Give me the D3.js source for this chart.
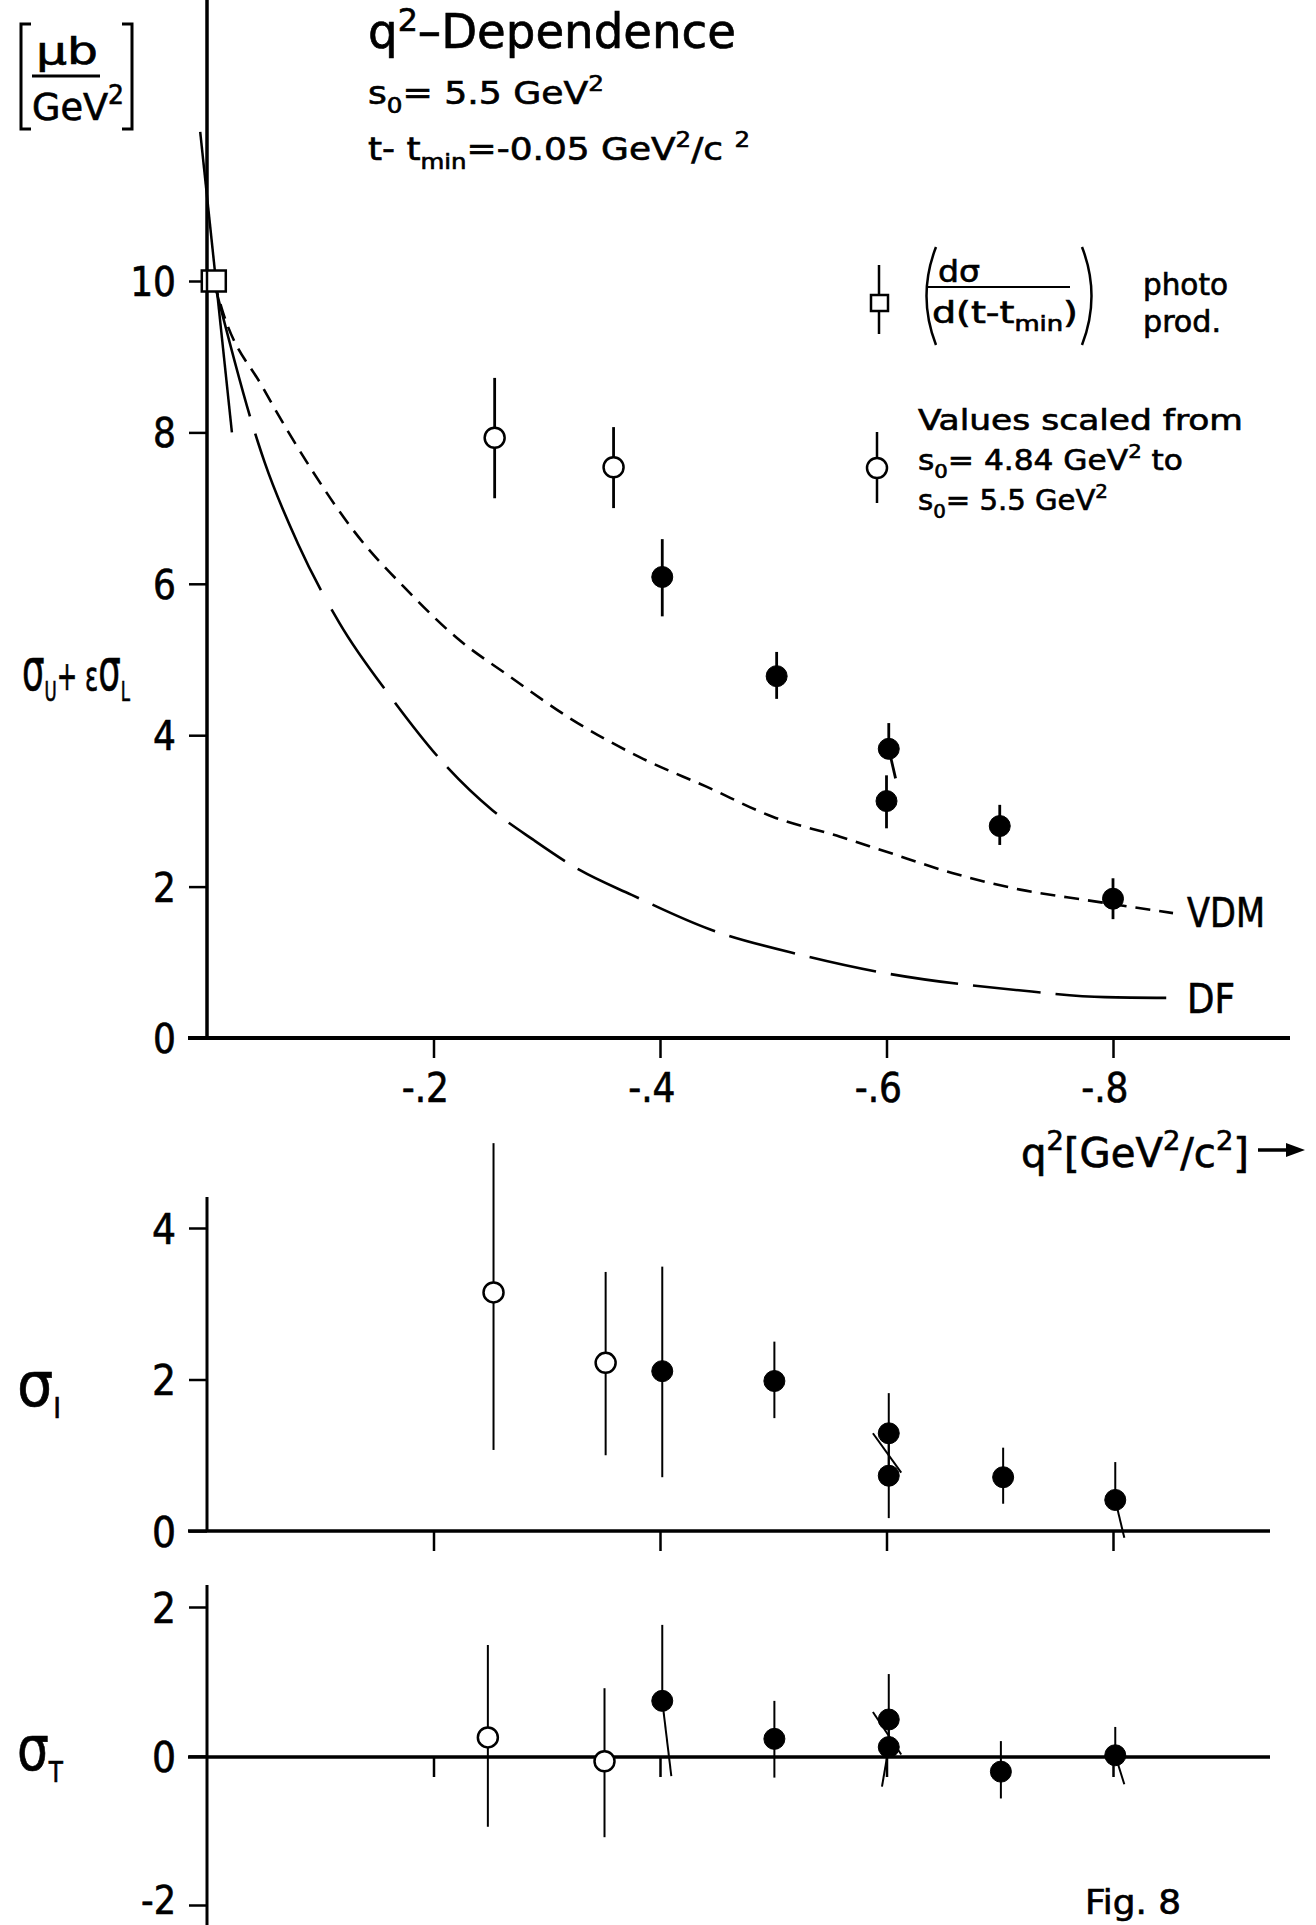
<!DOCTYPE html>
<html>
<head>
<meta charset="utf-8">
<script src="https://cdn.jsdelivr.net/npm/d3@7"></script>
<style>
  body { margin: 0; background: #fff; }
  svg { display: block; background: #fff; }
  text { font-family: "DejaVu Sans Condensed", "DejaVu Sans", sans-serif; font-stretch: condensed; fill: #000; stroke: #000; stroke-width: 0.6px; }
</style>
</head>
<body>
<svg id="fig" width="1316" height="1925"></svg>
<script>
// ---- axis ticks ----
const qTicks = [-0.2, -0.4, -0.6, -0.8];
const qTickLabels = ["-.2", "-.4", "-.6", "-.8"];
const mainTicks = [0, 2, 4, 6, 8, 10];
const giTicks = [0, 2, 4];
const gtTicks = [-2, 0, 2];

// ---- σU + εσL panel: [q², value, upper error end, lower error end, q² shift of lower end] ----
const photoPoint = [[-0.006, 10]];
const mainOpen = [
  [-0.254, 7.93, 8.72, 7.13],
  [-0.359, 7.54, 8.07, 7.00]
];
const mainFilled = [
  [-0.402, 6.09, 6.59, 5.57],
  [-0.503, 4.78, 5.10, 4.48],
  [-0.602, 3.82, 4.16, 3.43, -0.006],
  [-0.600, 3.13, 3.47, 2.77],
  [-0.700, 2.80, 3.08, 2.55],
  [-0.800, 1.84, 2.11, 1.57]
];
// slope line through the photoproduction point: [q²1, v1, q²2, v2]
const mainSlope = [[0.006, 11.97, -0.022, 8.0]];

// model curves
const vdmQ = [-0.006, -0.014, -0.049, -0.091, -0.129, -0.179, -0.221, -0.265, -0.323, -0.382, -0.441, -0.500, -0.559, -0.600, -0.658, -0.718, -0.777, -0.853];
const vdmV = [10, 9.59, 8.60, 7.54, 6.71, 5.88, 5.28, 4.80, 4.20, 3.71, 3.32, 2.92, 2.66, 2.46, 2.18, 1.96, 1.82, 1.65];
const dfQ = [-0.006, -0.045, -0.051, -0.080, -0.117, -0.164, -0.212, -0.252, -0.288, -0.329, -0.375, -0.445, -0.524, -0.594, -0.717, -0.793, -0.847];
const dfV = [10, 7.87, 7.60, 6.54, 5.48, 4.47, 3.58, 3.01, 2.62, 2.22, 1.89, 1.43, 1.10, 0.87, 0.63, 0.54, 0.53];

// ---- σI panel ----
const giOpen = [
  [-0.253, 3.15, 5.12, 1.07],
  [-0.352, 2.22, 3.42, 1.00]
];
const giFilled = [
  [-0.402, 2.11, 3.49, 0.71],
  [-0.501, 1.98, 2.50, 1.49],
  [-0.602, 1.29, 1.82, 0.73],
  [-0.602, 0.73, 1.29, 0.17],
  [-0.703, 0.71, 1.10, 0.36],
  [-0.802, 0.41, 0.91, -0.09, -0.008]
];
const giSlants = [[-0.588, 1.29, -0.613, 0.77]];

// ---- σT panel ----
const gtOpen = [
  [-0.248, 0.25, 1.49, -0.95],
  [-0.351, -0.07, 0.91, -1.09]
];
const gtFilled = [
  [-0.402, 0.74, 1.76, -0.27, -0.008],
  [-0.501, 0.23, 0.74, -0.29],
  [-0.602, 0.49, 1.10, 0.12],
  [-0.602, 0.12, 0.49, -0.41, 0.006],
  [-0.701, -0.21, 0.20, -0.57],
  [-0.802, 0.01, 0.39, -0.38, -0.008]
];
const gtSlants = [[-0.588, 0.59, -0.613, 0.02]];

// ---------------------------------------------------------------
const svg = d3.select("#fig");
svg.append("rect").attr("width", 1316).attr("height", 1925).attr("fill", "#fff");

const x = d3.scaleLinear().domain([0, -0.8]).range([207, 1113]);
const yMain = d3.scaleLinear().domain([0, 10]).range([1038, 281]);
const yGI = d3.scaleLinear().domain([0, 4]).range([1531, 1228]);
const yGT = d3.scaleLinear().domain([-2, 2]).range([1905, 1607]);

// text with sub/superscript parts; optional horizontal squeeze to a given width
function rich(g, px, py, size, parts, opts = {}) {
  const holder = g.append("g").attr("transform", `translate(${px},${py})`);
  const t = holder.append("text").attr("x", 0).attr("y", 0).attr("font-size", size);
  const lift = opts.lift || 0.42;
  let cur = 0;
  parts.forEach(p => {
    const [s, k, fs] = typeof p === "string" ? [p, null, null] : p;
    const target = k === "sup" ? -lift * size : k === "sub" ? 0.28 * size : 0;
    const ts = t.append("tspan").attr("dy", target - cur).text(s);
    if (k === "sup" || k === "sub") ts.attr("font-size", size * 0.68);
    if (fs) ts.attr("font-size", fs);
    cur = target;
  });
  if (opts.len) {
    const w = t.node().getComputedTextLength();
    holder.attr("transform", `translate(${px},${py}) scale(${opts.len / w},1)`);
  }
  return t;
}

function line(g, x1, y1, x2, y2, w) {
  return g.append("line").attr("x1", x1).attr("y1", y1).attr("x2", x2).attr("y2", y2)
    .attr("stroke", "#000").attr("stroke-width", w).attr("stroke-linecap", "butt");
}

// y axis ticks + labels on the left of a panel
function yAxis(y, ticks, size) {
  const g = svg.append("g").attr("transform", "translate(207,0)")
    .call(d3.axisLeft(y).tickValues(ticks).tickSize(18).tickPadding(13).tickFormat(d3.format("d")));
  g.select(".domain").remove();
  g.selectAll(".tick line").attr("stroke-width", 2.5);
  g.selectAll(".tick text")
    .attr("font-family", '"DejaVu Sans Condensed","DejaVu Sans",sans-serif')
    .attr("font-size", size).attr("dy", "0.36em")
    .text(d => d < 0 ? "-" + Math.abs(d) : d);
  return g;
}

// x ticks below a baseline
function xTicks(yPix, withLabels) {
  const g = svg.append("g").attr("transform", `translate(0,${yPix})`)
    .call(d3.axisBottom(x).tickValues(qTicks).tickSize(20).tickFormat((d, i) => withLabels ? qTickLabels[i] : ""));
  g.select(".domain").remove();
  g.selectAll(".tick line").attr("stroke-width", 2.5);
  g.selectAll(".tick text")
    .attr("font-family", '"DejaVu Sans Condensed","DejaVu Sans",sans-serif')
    .attr("font-size", 40).attr("text-anchor", "end")
    .attr("x", 15).attr("y", 64).attr("dy", 0);
  return g;
}

// error bars + markers
function points(y, data, filled, r, w) {
  const g = svg.append("g");
  g.selectAll("line.hi").data(data.filter(d => d[2] != null)).join("line")
    .attr("x1", d => x(d[0])).attr("x2", d => x(d[0]))
    .attr("y1", d => y(d[1])).attr("y2", d => y(d[2]))
    .attr("stroke", "#000").attr("stroke-width", w);
  g.selectAll("line.lo").data(data.filter(d => d[3] != null)).join("line")
    .attr("x1", d => x(d[0])).attr("x2", d => x(d[0] + (d[4] || 0)))
    .attr("y1", d => y(d[1])).attr("y2", d => y(d[3]))
    .attr("stroke", "#000").attr("stroke-width", w);
  g.selectAll("circle").data(data).join("circle")
    .attr("cx", d => x(d[0])).attr("cy", d => y(d[1])).attr("r", r)
    .attr("fill", filled ? "#000" : "#fff")
    .attr("stroke", "#000").attr("stroke-width", filled ? 1 : 2.5);
  return g;
}

function slants(y, data, w) {
  svg.append("g").selectAll("line").data(data).join("line")
    .attr("x1", d => x(d[0])).attr("y1", d => y(d[1]))
    .attr("x2", d => x(d[2])).attr("y2", d => y(d[3]))
    .attr("stroke", "#000").attr("stroke-width", w);
}

// ================= σU + εσL panel =================
line(svg, 207, 0, 207, 1038, 3.5);
line(svg, 188, 1038, 1290, 1038, 4);
yAxis(yMain, mainTicks, 40);
xTicks(1038, true);

slants(yMain, mainSlope, 2.5);

const curve = d3.line().x(d => x(d[0])).y(d => yMain(d[1])).curve(d3.curveMonotoneX);
svg.append("path").datum(vdmQ.map((q, i) => [q, vdmV[i]]))
  .attr("d", curve).attr("fill", "none").attr("stroke", "#000")
  .attr("stroke-width", 2.6).attr("stroke-dasharray", "15,9");

const dfPath = svg.append("path").datum(dfQ.map((q, i) => [q, dfV[i]]))
  .attr("d", curve).attr("fill", "none").attr("stroke", "#000").attr("stroke-width", 2.6);
// long dashes: longer strokes near the origin, regular ones after, closing on a dash
{
  const total = dfPath.node().getTotalLength();
  const dashes = [140, 18, 170, 22, 95, 18];
  let used = d3.sum(dashes);
  while (used + 83 + 40 < total) { dashes.push(68, 15); used += 83; }
  dashes.push(total - used + 2, 40);
  dfPath.attr("stroke-dasharray", dashes.join(","));
}

points(yMain, mainOpen, false, 10, 2.8);
points(yMain, mainFilled, true, 10.5, 2.8);

svg.append("g").selectAll("rect").data(photoPoint).join("rect")
  .attr("x", d => x(d[0]) - 12).attr("y", d => yMain(d[1]) - 10.5)
  .attr("width", 24).attr("height", 21)
  .attr("fill", "#fff").attr("stroke", "#000").attr("stroke-width", 2.5);
line(svg, 207, 271, 207, 292, 2.5);

rich(svg, 1187, 927, 41, ["VDM"], { len: 78 });
rich(svg, 1187, 1013, 41, ["DF"], { len: 48 });

// axis titles
rich(svg, 1021, 1167, 40, ["q", ["2", "sup"], "[GeV", ["2", "sup"], "/c", ["2", "sup"], "]"], { len: 228 });
line(svg, 1258, 1150, 1290, 1150, 3.5);
svg.append("path").attr("d", "M1286,1143 L1305,1150 L1286,1157 Z").attr("fill", "#000");

rich(svg, 22, 690, 40, [["σ", null, 58], ["U", "sub"], ["+ ε", null, 40], ["σ", null, 58], ["L", "sub"]], { len: 108 });

// unit bracket
const ub = svg.append("g");
ub.append("path").attr("d", "M31,24 L21,24 L21,129 L31,129").attr("fill", "none").attr("stroke", "#000").attr("stroke-width", 3);
ub.append("path").attr("d", "M122,24 L132,24 L132,129 L122,129").attr("fill", "none").attr("stroke", "#000").attr("stroke-width", 3);
rich(ub, 36, 64, 38, ["μb"], { len: 62 });
line(ub, 32, 76, 100, 76, 3);
rich(ub, 32, 120, 38, ["GeV", ["2", "sup"]], { len: 92 });

// title block
rich(svg, 368, 48, 48, ["q", ["2", "sup"], "–Dependence"], { len: 368, lift: 0.36 });
rich(svg, 368, 104, 32, ["s", ["0", "sub"], "= 5.5 GeV", ["2", "sup"]], { len: 236 });
rich(svg, 368, 160, 32, ["t- t", ["min", "sub"], "=-0.05 GeV", ["2", "sup"], "/c ", ["2", "sup"]], { len: 382 });

// legend
const lg = svg.append("g");
line(lg, 879, 265, 879, 334, 2.5);
lg.append("rect").attr("x", 871).attr("y", 295).attr("width", 17).attr("height", 16)
  .attr("fill", "#fff").attr("stroke", "#000").attr("stroke-width", 2.5);
lg.append("path").attr("d", "M936,247 Q917,296 936,345").attr("fill", "none").attr("stroke", "#000").attr("stroke-width", 2.5);
lg.append("path").attr("d", "M1082,247 Q1101,296 1082,345").attr("fill", "none").attr("stroke", "#000").attr("stroke-width", 2.5);
rich(lg, 938, 282, 30, ["dσ"], { len: 42 });
line(lg, 927, 287, 1070, 287, 2);
rich(lg, 932, 323, 30, ["d(t-t", ["min", "sub"], ")"], { len: 146 });
rich(lg, 1143, 295, 30, ["photo"], { len: 85 });
rich(lg, 1143, 332, 30, ["prod."], { len: 78 });

line(lg, 877, 432, 877, 503, 2.5);
lg.append("circle").attr("cx", 877).attr("cy", 468).attr("r", 10)
  .attr("fill", "#fff").attr("stroke", "#000").attr("stroke-width", 2.5);
rich(lg, 918, 430, 29, ["Values  scaled  from"], { len: 325 });
rich(lg, 918, 470, 29, ["s", ["0", "sub"], "= 4.84 GeV", ["2", "sup"], "  to"], { len: 265 });
rich(lg, 918, 510, 29, ["s", ["0", "sub"], "= 5.5 GeV", ["2", "sup"]], { len: 190 });

// ================= σI panel =================
line(svg, 207, 1197, 207, 1531, 3);
line(svg, 188, 1531, 1270, 1531, 3.5);
yAxis(yGI, giTicks, 42);
xTicks(1531, false);
slants(yGI, giSlants, 2);
points(yGI, giOpen, false, 10, 2);
points(yGI, giFilled, true, 10.5, 2);
rich(svg, 17, 1406, 42, [["σ", null, 62], ["I", "sub"]], { len: 44 });

// ================= σT panel =================
line(svg, 207, 1585, 207, 1925, 3);
line(svg, 188, 1757, 1270, 1757, 3.5);
const gtAxis = yAxis(yGT, gtTicks, 42);
// the lowest label sits at the page foot: slightly smaller and raised so it stays on the page
gtAxis.selectAll(".tick text").filter(d => d === -2).attr("font-size", 39).attr("dy", "0.22em");
xTicks(1757, false);
slants(yGT, gtSlants, 2);
points(yGT, gtOpen, false, 10, 2);
points(yGT, gtFilled, true, 10.5, 2);
rich(svg, 17, 1770, 42, [["σ", null, 62], ["T", "sub"]], { len: 46 });

rich(svg, 1085, 1914, 34, ["Fig. 8"], { len: 96 });
</script>
</body>
</html>
